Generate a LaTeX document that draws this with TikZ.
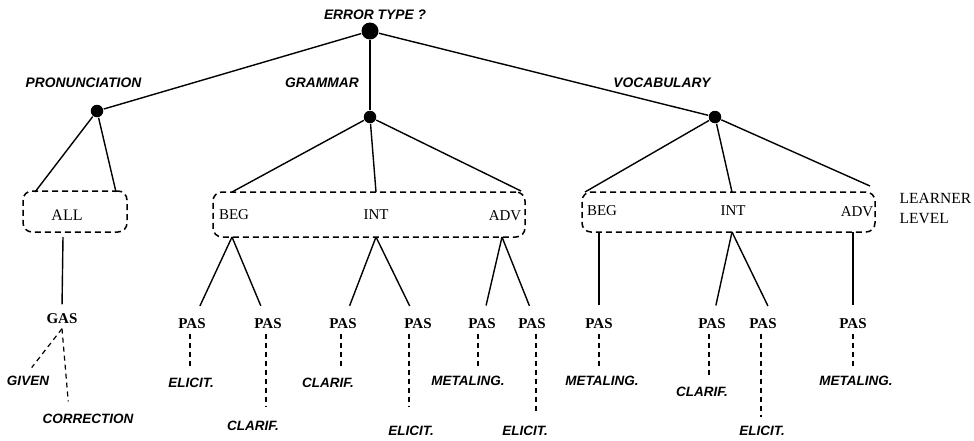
\documentclass[tikz,border=0pt]{standalone}
\usepackage{fontspec}
\setmainfont{Liberation Serif}
\newfontfamily\hvfont{Liberation Sans}
\begin{document}
\begin{tikzpicture}[x=1pt,y=-1pt,line width=1.4pt,
  bigdot/.style={circle,fill=black,inner sep=0pt,minimum size=17pt},
  smalldot/.style={circle,fill=black,inner sep=0pt,minimum size=12.5pt},
  cat/.style={font=\hvfont\bfseries\itshape\fontsize{13.8}{16}\selectfont,inner sep=0pt},
  strat/.style={font=\hvfont\bfseries\itshape\fontsize{13.5}{15}\selectfont,inner xsep=0pt,inner ysep=2pt,text height=10pt,text depth=0pt},
  pas/.style={font=\bfseries\fontsize{15}{17}\selectfont,inner xsep=1pt,inner ysep=5pt,text height=10pt,text depth=0pt},
  lvl/.style={font=\fontsize{15}{17}\selectfont,inner sep=0pt},
  levelbox/.style={draw,line width=1.5pt,dash pattern=on 6pt off 4pt,rounded corners=9pt,inner sep=0pt},
  dline/.style={line width=1.2pt,dash pattern=on 5pt off 4pt},
  toPas/.style={shorten >=7pt}]
\useasboundingbox (0,0) rectangle (974,440);

% top level
\node[bigdot] (root) at (370,31) {};
\node[cat] (tErr) at (375,15) {ERROR TYPE ?};
\node[smalldot] (pron) at (97,111) {};
\node[smalldot] (gram) at (370,117) {};
\node[smalldot] (voc) at (715,117) {};
\node[cat] (tPron) at (83.5,83) {PRONUNCIATION};
\node[cat] (tGram) at (322,83) {GRAMMAR};
\node[cat] (tVoc) at (662,83) {VOCABULARY};
\draw (root) -- (pron);
\draw (root) -- (gram);
\draw (root) -- (voc);

% learner-level boxes
\node[levelbox,minimum width=104pt,minimum height=41pt] (bPron) at (75,211.5) {};
\node[levelbox,minimum width=312pt,minimum height=45pt] (bGram) at (369,214.5) {};
\node[levelbox,minimum width=293pt,minimum height=40pt] (bVoc) at (728.5,212) {};
\node[lvl,font=\fontsize{16}{18}\selectfont] (lAll) at (67,215) {ALL};
\node[lvl] (lgBeg) at (234,215) {BEG};
\node[lvl] (lgInt) at (376,215) {INT};
\node[lvl] (lgAdv) at (505,216) {ADV};
\node[lvl] (lvBeg) at (602,211) {BEG};
\node[lvl] (lvInt) at (733,211) {INT};
\node[lvl] (lvAdv) at (857,212) {ADV};
\node[font=\fontsize{15.5}{20}\selectfont,align=left,anchor=west,inner sep=0pt] (learner) at (899,208) {LEARNER\\LEVEL};

% attachment points on the boxes
\coordinate (pT1) at (35,192);
\coordinate (pT2) at (116,192);
\coordinate (gT1) at (232,192);
\coordinate (gT2) at (376,192);
\coordinate (gT3) at (521,191);
\coordinate (vT1) at (585,192);
\coordinate (vT2) at (732,192);
\coordinate (vT3) at (870,186);
\coordinate (pB) at (63,237);
\coordinate (gB1) at (232,237);
\coordinate (gB2) at (376,237);
\coordinate (gB3) at (502,237);
\coordinate (vB1) at (599,232);
\coordinate (vB2) at (732,232);
\coordinate (vB3) at (853,232);

\draw (pron) -- (pT1);
\draw (pron) -- (pT2);
\draw (gram) -- (gT1);
\draw (gram) -- (gT2);
\draw (gram) -- (gT3);
\draw (voc) -- (vT1);
\draw (voc) -- (vT2);
\draw (voc) -- (vT3);

% PAS / GAS nodes
\node[pas] (gas) at (62,318) {GAS};
\node[pas] (g1) at (192,323) {PAS};
\node[pas] (g2) at (268,323) {PAS};
\node[pas] (g3) at (343,323) {PAS};
\node[pas] (g4) at (418,323) {PAS};
\node[pas] (g5) at (482,323) {PAS};
\node[pas] (g6) at (532,323) {PAS};
\node[pas] (v1) at (599,323) {PAS};
\node[pas] (v2) at (712,323) {PAS};
\node[pas] (v3) at (763,323) {PAS};
\node[pas] (v4) at (853,323) {PAS};

\draw[shorten >=3pt] (pB) -- (gas.north);
\draw[toPas] (gB1) -- (g1);
\draw[toPas] (gB1) -- (g2);
\draw[toPas] (gB2) -- (g3);
\draw[toPas] (gB2) -- (g4);
\draw[toPas] (gB3) -- (g5);
\draw[toPas] (gB3) -- (g6.north);
\draw[toPas] (vB1) -- (v1.north);
\draw[toPas] (vB2) -- (v2);
\draw[toPas] (vB2) -- ([xshift=8pt]v3.north);
\draw[toPas] (vB3) -- (v4.north);

% strategy labels
\node[strat] (sGiven) at (28,380) {GIVEN};
\node[strat] (sCorr) at (88,418) {CORRECTION};
\node[strat] (s1) at (191,382) {ELICIT.};
\node[strat] (s2) at (253,425) {CLARIF.};
\node[strat] (s3) at (328,382) {CLARIF.};
\node[strat] (s4) at (411,430) {ELICIT.};
\node[strat] (s5) at (468,380) {METALING.};
\node[strat] (s6) at (525,430) {ELICIT.};
\node[strat] (s7) at (602,380) {METALING.};
\node[strat] (s8) at (702,391) {CLARIF.};
\node[strat] (s9) at (762,430) {ELICIT.};
\node[strat] (s10) at (856,380) {METALING.};

\draw[dline,shorten >=6pt] (gas.south) -- (sGiven.north);
\draw[dline,shorten >=9pt] (gas.south) -- ([xshift=-19pt]sCorr.north);
\foreach \p/\s/\sh/\dx in {g1/s1/8/-2, g2/s2/10/-2, g3/s3/8/-2, g4/s4/15/-9, g5/s5/6/-4, g6/s6/10/4, v1/s7/6/0, v2/s8/6/-3, v3/s9/5/-2, v4/s10/6/0}
  \draw[dline,shorten >=\sh pt] ([xshift=\dx pt]\p.south) -- ([xshift=\dx pt]\p.south |- \s.north);
\end{tikzpicture}
\end{document}
